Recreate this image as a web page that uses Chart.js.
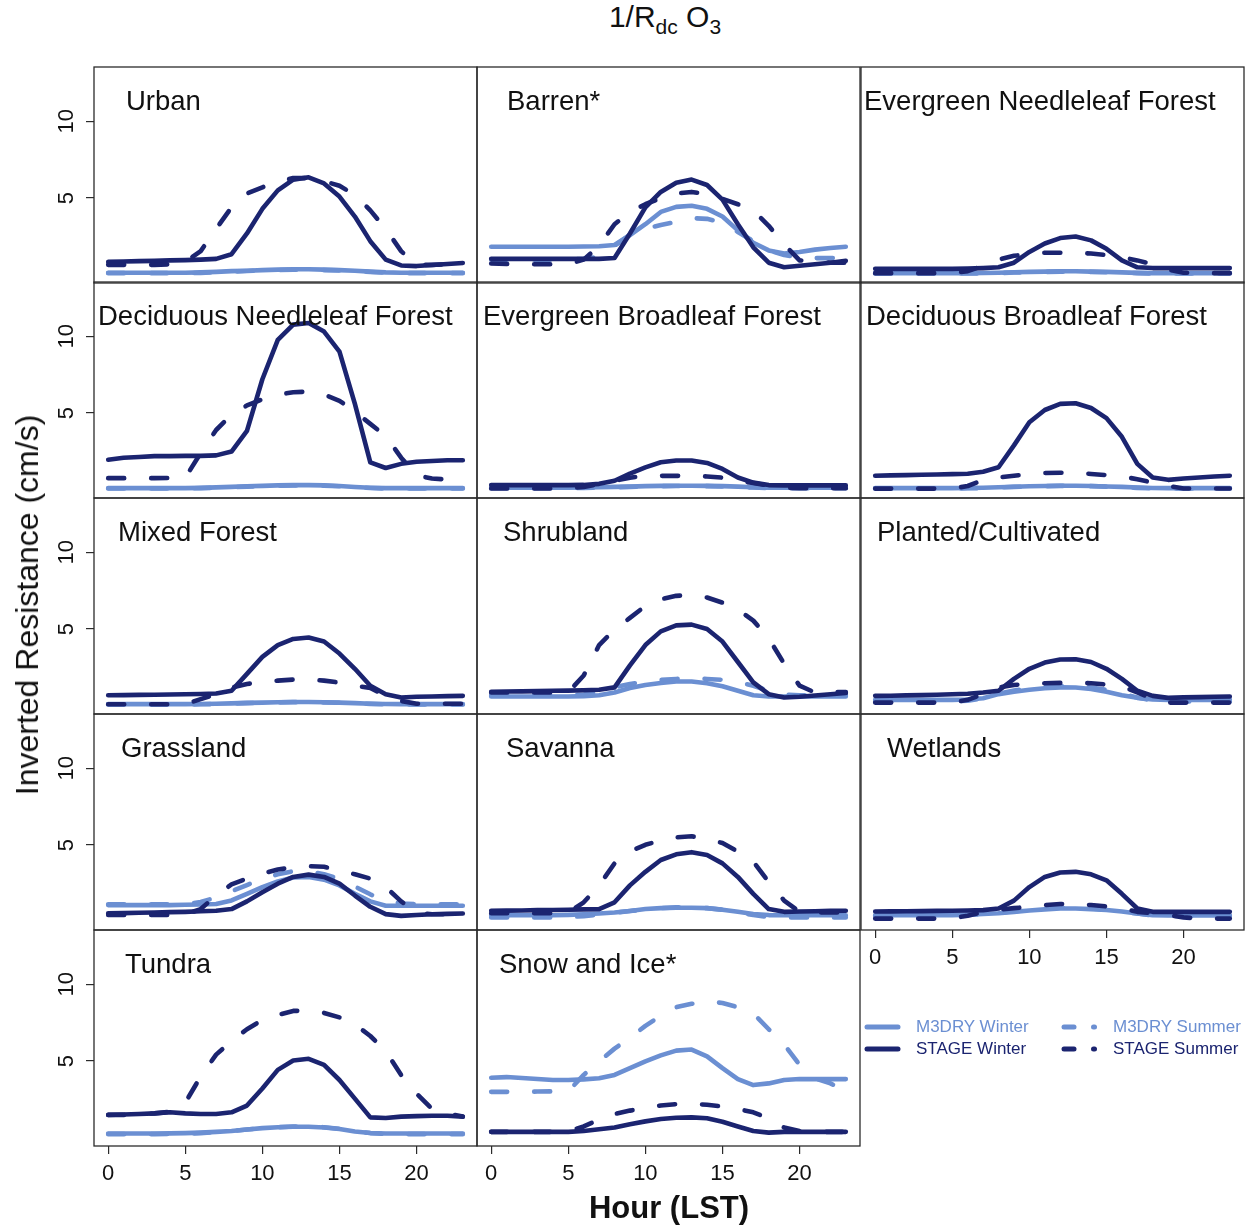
<!DOCTYPE html>
<html><head><meta charset="utf-8">
<script src="https://cdn.jsdelivr.net/npm/chart.js@4.4.1/dist/chart.umd.min.js"></script>
<style>
html,body{margin:0;padding:0;background:#fff;}
body{width:1253px;height:1228px;position:relative;overflow:hidden;font-family:"Liberation Sans",Arial,sans-serif;}
canvas{position:absolute;}
.t{position:absolute;white-space:nowrap;color:#111;line-height:32px;}
</style></head><body>
<script>
// ---------- DATA ----------
const hours = [0,1,2,3,4,5,6,7,8,9,10,11,12,13,14,15,16,17,18,19,20,21,22,23];
const categories = ["Urban","Barren*","Evergreen Needleleaf Forest","Deciduous Needleleaf Forest","Evergreen Broadleaf Forest","Deciduous Broadleaf Forest","Mixed Forest","Shrubland","Planted/Cultivated","Grassland","Savanna","Wetlands","Tundra","Snow and Ice*"];
const seriesNames = ["M3DRY Winter","M3DRY Summer","STAGE Winter","STAGE Summer"];
const xTickValues = [0,5,10,15,20];
const yTickValues = [5,10];

const m3dryWinter = [
 [0.15,0.15,0.15,0.15,0.15,0.15,0.17,0.2,0.25,0.28,0.32,0.35,0.37,0.37,0.35,0.32,0.28,0.22,0.17,0.15,0.15,0.15,0.15,0.15],
 [1.84,1.84,1.84,1.84,1.84,1.84,1.85,1.87,1.95,2.6,3.3,4.1,4.43,4.5,4.3,3.8,2.9,2.1,1.6,1.4,1.5,1.65,1.75,1.84],
 [0.12,0.12,0.12,0.12,0.12,0.12,0.12,0.13,0.15,0.18,0.2,0.22,0.24,0.24,0.22,0.2,0.17,0.14,0.12,0.12,0.12,0.12,0.12,0.12],
 [0.12,0.12,0.12,0.12,0.12,0.12,0.14,0.17,0.2,0.24,0.27,0.3,0.32,0.32,0.3,0.26,0.2,0.15,0.12,0.12,0.12,0.12,0.12,0.12],
 [0.15,0.15,0.15,0.15,0.15,0.15,0.16,0.18,0.2,0.22,0.25,0.27,0.28,0.28,0.27,0.25,0.22,0.18,0.15,0.15,0.15,0.15,0.15,0.15],
 [0.12,0.12,0.12,0.12,0.12,0.12,0.13,0.15,0.18,0.21,0.24,0.26,0.28,0.28,0.26,0.23,0.2,0.16,0.13,0.12,0.12,0.12,0.12,0.12],
 [0.12,0.12,0.12,0.12,0.12,0.12,0.13,0.15,0.17,0.2,0.22,0.24,0.26,0.26,0.24,0.22,0.19,0.15,0.13,0.12,0.12,0.12,0.12,0.12],
 [0.62,0.62,0.62,0.62,0.62,0.62,0.64,0.7,0.88,1.17,1.37,1.5,1.59,1.59,1.48,1.28,0.99,0.7,0.62,0.62,0.62,0.62,0.62,0.62],
 [0.4,0.4,0.4,0.4,0.4,0.4,0.42,0.5,0.77,0.93,1.06,1.15,1.21,1.2,1.1,0.93,0.7,0.53,0.42,0.4,0.4,0.4,0.4,0.4],
 [1.1,1.1,1.1,1.1,1.1,1.12,1.14,1.17,1.4,1.83,2.27,2.64,2.89,2.93,2.75,2.38,1.83,1.34,1.06,1.06,1.06,1.06,1.06,1.06],
 [0.44,0.44,0.44,0.44,0.44,0.46,0.5,0.55,0.62,0.72,0.84,0.9,0.93,0.93,0.9,0.8,0.66,0.52,0.45,0.44,0.44,0.44,0.44,0.44],
 [0.44,0.44,0.44,0.44,0.44,0.45,0.48,0.52,0.57,0.66,0.75,0.82,0.88,0.88,0.84,0.78,0.68,0.55,0.44,0.42,0.42,0.42,0.42,0.42],
 [0.29,0.29,0.29,0.29,0.3,0.32,0.35,0.4,0.46,0.55,0.64,0.7,0.73,0.73,0.68,0.58,0.42,0.32,0.29,0.29,0.29,0.29,0.29,0.29],
 [3.92,3.96,3.9,3.83,3.77,3.77,3.81,3.88,4.1,4.54,4.98,5.37,5.68,5.75,5.31,4.54,3.83,3.44,3.55,3.77,3.83,3.83,3.83,3.83]
];
const m3drySummer = [
 [0.12,0.12,0.12,0.12,0.12,0.12,0.14,0.18,0.22,0.26,0.3,0.32,0.34,0.34,0.32,0.3,0.26,0.2,0.15,0.12,0.12,0.12,0.12,0.12],
 [1.0,1.0,1.0,1.0,1.0,1.0,1.05,1.2,1.9,2.6,3.0,3.25,3.45,3.7,3.65,3.4,2.8,2.2,1.6,1.3,1.15,1.1,1.1,1.1],
 [0.1,0.1,0.1,0.1,0.1,0.1,0.1,0.11,0.13,0.16,0.18,0.2,0.22,0.22,0.2,0.18,0.15,0.12,0.1,0.1,0.1,0.1,0.1,0.1],
 [0.1,0.1,0.1,0.1,0.1,0.1,0.12,0.15,0.18,0.22,0.25,0.28,0.3,0.3,0.28,0.24,0.18,0.13,0.1,0.1,0.1,0.1,0.1,0.1],
 [0.12,0.12,0.12,0.12,0.12,0.12,0.13,0.15,0.18,0.2,0.23,0.25,0.26,0.26,0.25,0.23,0.2,0.16,0.13,0.12,0.12,0.12,0.12,0.12],
 [0.1,0.1,0.1,0.1,0.1,0.1,0.11,0.13,0.16,0.2,0.23,0.25,0.27,0.27,0.25,0.22,0.18,0.14,0.11,0.1,0.1,0.1,0.1,0.1],
 [0.1,0.1,0.1,0.1,0.1,0.1,0.11,0.13,0.16,0.19,0.21,0.23,0.25,0.25,0.23,0.21,0.18,0.14,0.11,0.1,0.1,0.1,0.1,0.1],
 [0.7,0.7,0.7,0.7,0.7,0.7,0.75,0.9,1.21,1.43,1.59,1.7,1.76,1.81,1.76,1.7,1.54,1.32,0.99,0.75,0.7,0.7,0.7,0.7],
 [0.3,0.3,0.3,0.3,0.3,0.3,0.35,0.5,0.8,1.0,1.15,1.25,1.3,1.3,1.2,1.05,0.8,0.55,0.35,0.3,0.3,0.3,0.3,0.3],
 [1.15,1.15,1.15,1.15,1.15,1.15,1.3,1.6,2.0,2.4,2.8,3.1,3.3,3.3,3.1,2.8,2.3,1.8,1.4,1.2,1.15,1.15,1.15,1.15],
 [0.3,0.3,0.3,0.3,0.3,0.32,0.38,0.48,0.6,0.72,0.82,0.9,0.95,0.95,0.9,0.8,0.62,0.45,0.33,0.3,0.3,0.3,0.3,0.3],
 [0.4,0.4,0.4,0.4,0.4,0.42,0.46,0.52,0.6,0.7,0.8,0.88,0.93,0.93,0.88,0.8,0.68,0.55,0.42,0.4,0.4,0.4,0.4,0.4],
 [0.25,0.25,0.25,0.25,0.26,0.28,0.32,0.38,0.45,0.55,0.63,0.7,0.75,0.75,0.7,0.6,0.45,0.32,0.26,0.25,0.25,0.25,0.25,0.25],
 [3.0,3.0,3.0,3.02,3.03,3.04,4.1,4.98,5.81,6.52,7.29,7.95,8.5,8.72,8.9,8.77,8.5,8.1,7.07,6.08,4.76,3.88,3.55,3.04]
];
const stageWinter = [
 [0.85,0.88,0.9,0.92,0.95,0.97,1.0,1.05,1.35,2.7,4.3,5.5,6.2,6.35,5.95,5.1,3.8,2.2,1.0,0.62,0.58,0.65,0.72,0.78],
 [1.05,1.05,1.05,1.05,1.05,1.05,1.05,1.05,1.1,2.7,4.4,5.4,6.0,6.2,5.85,4.9,3.3,1.8,0.8,0.5,0.6,0.7,0.8,0.92],
 [0.4,0.4,0.4,0.4,0.4,0.4,0.42,0.45,0.5,0.8,1.5,2.05,2.4,2.5,2.25,1.7,0.95,0.5,0.45,0.45,0.45,0.45,0.45,0.45],
 [1.97,2.1,2.15,2.2,2.2,2.22,2.22,2.25,2.5,3.84,7.2,9.76,10.75,10.85,10.3,9.0,5.6,1.8,1.43,1.7,1.84,1.89,1.93,1.93],
 [0.32,0.32,0.32,0.32,0.32,0.32,0.33,0.4,0.6,1.07,1.47,1.8,1.92,1.92,1.76,1.37,0.81,0.48,0.32,0.3,0.3,0.3,0.3,0.3],
 [0.93,0.95,0.97,0.99,1.01,1.03,1.06,1.19,1.48,2.9,4.4,5.2,5.6,5.64,5.33,4.67,3.46,1.7,0.81,0.66,0.75,0.81,0.88,0.93],
 [0.7,0.71,0.72,0.73,0.75,0.76,0.78,0.81,0.99,2.09,3.19,3.96,4.36,4.45,4.19,3.41,2.42,1.32,0.77,0.55,0.6,0.62,0.64,0.66],
 [0.93,0.94,0.95,0.97,0.99,1.0,1.02,1.06,1.21,2.64,3.96,4.85,5.24,5.29,5.0,4.19,2.86,1.54,0.77,0.55,0.6,0.68,0.76,0.84],
 [0.66,0.67,0.69,0.71,0.73,0.76,0.8,0.88,0.99,1.76,2.42,2.82,3.02,3.04,2.86,2.42,1.76,0.99,0.66,0.53,0.56,0.58,0.6,0.62],
 [0.57,0.58,0.6,0.62,0.64,0.66,0.7,0.73,0.84,1.34,1.94,2.49,2.93,3.08,2.93,2.49,1.72,0.99,0.51,0.4,0.46,0.5,0.53,0.55],
 [0.73,0.74,0.75,0.77,0.78,0.8,0.82,0.84,1.28,2.38,3.26,4.03,4.4,4.54,4.36,3.81,2.93,1.83,0.84,0.66,0.68,0.7,0.72,0.73],
 [0.68,0.69,0.7,0.71,0.72,0.73,0.75,0.77,0.88,1.39,2.27,2.93,3.22,3.26,3.1,2.71,1.83,0.88,0.66,0.66,0.66,0.66,0.66,0.66],
 [1.5,1.53,1.56,1.6,1.67,1.6,1.56,1.56,1.67,2.11,3.22,4.43,5.04,5.15,4.76,3.77,2.56,1.34,1.3,1.39,1.42,1.45,1.45,1.39],
 [0.4,0.4,0.4,0.4,0.4,0.4,0.46,0.57,0.68,0.9,1.08,1.23,1.32,1.34,1.28,1.06,0.75,0.46,0.35,0.4,0.4,0.4,0.4,0.4]
];
const stageSummer = [
 [0.66,0.66,0.66,0.66,0.7,0.85,1.55,3.0,4.4,5.3,5.7,6.05,6.3,6.3,6.1,5.8,5.2,4.2,3.0,1.55,0.66,0.66,0.7,0.72],
 [0.75,0.72,0.7,0.7,0.7,0.72,1.0,1.9,3.3,4.1,4.6,5.0,5.3,5.4,5.25,4.95,4.6,4.2,3.2,2.0,0.95,0.85,0.8,0.8],
 [0.12,0.12,0.12,0.12,0.12,0.12,0.25,0.6,1.0,1.25,1.35,1.45,1.45,1.43,1.4,1.3,1.15,0.95,0.7,0.35,0.15,0.12,0.12,0.12],
 [0.77,0.77,0.77,0.77,0.78,0.8,2.4,3.9,4.9,5.5,5.9,6.2,6.35,6.4,6.2,5.8,5.1,4.3,3.5,2.1,0.95,0.75,0.68,0.66],
 [0.1,0.1,0.1,0.1,0.1,0.12,0.2,0.37,0.6,0.8,0.92,0.92,0.92,0.92,0.88,0.8,0.62,0.45,0.28,0.15,0.12,0.12,0.12,0.12],
 [0.09,0.09,0.09,0.09,0.09,0.09,0.26,0.64,0.81,0.93,1.04,1.1,1.12,1.12,1.04,0.97,0.88,0.7,0.48,0.26,0.1,0.1,0.1,0.1],
 [0.11,0.11,0.11,0.11,0.11,0.11,0.45,0.77,1.2,1.43,1.56,1.65,1.72,1.72,1.65,1.52,1.32,1.17,0.66,0.33,0.15,0.15,0.15,0.15],
 [0.88,0.88,0.88,0.88,0.88,0.9,1.98,3.96,4.96,5.73,6.5,6.94,7.16,7.22,7.05,6.72,6.28,5.55,4.4,2.75,1.32,0.88,0.92,0.9],
 [0.22,0.22,0.22,0.22,0.22,0.22,0.4,0.77,1.2,1.37,1.44,1.48,1.5,1.5,1.48,1.39,1.28,0.88,0.48,0.22,0.22,0.22,0.22,0.22],
 [0.46,0.46,0.46,0.46,0.46,0.5,0.84,1.72,2.44,2.82,3.15,3.41,3.55,3.63,3.59,3.37,3.1,2.82,2.27,1.34,0.62,0.5,0.5,0.5],
 [0.57,0.57,0.57,0.57,0.57,0.6,1.28,2.38,3.81,4.58,5.02,5.29,5.5,5.57,5.42,5.13,4.58,3.92,2.6,1.39,0.66,0.62,0.62,0.62],
 [0.22,0.22,0.22,0.22,0.22,0.25,0.4,0.66,0.8,0.9,0.99,1.1,1.17,1.17,1.1,1.01,0.88,0.66,0.57,0.44,0.3,0.22,0.22,0.22],
 [1.5,1.5,1.55,1.6,1.7,2.3,4.0,5.42,6.3,7.07,7.67,8.0,8.26,8.28,8.13,7.84,7.4,6.63,5.64,4.1,2.89,1.89,1.6,1.39],
 [0.4,0.4,0.4,0.4,0.4,0.42,0.75,1.19,1.56,1.78,1.96,2.11,2.2,2.22,2.16,2.05,1.89,1.67,1.28,0.68,0.46,0.4,0.4,0.4]
];

// ---------- LAYOUT / STYLE ----------
const FONT = '"Liberation Sans", Arial, sans-serif';
const LIGHT = '#6b8fd2';
const DARK = '#1b2470';
const colLeft = [94, 477, 861];
const rowTop = [67, 282, 498, 714, 930];
const PW = 383, PH = 216;
const PADL = 70, PADB = 50, PADT = 5, PADR = 5;
const titleOffset = [32,30,3,4,6,5,24,26,16,27,29,26,31,22];

const boxPlugin = {
  id: 'panelBox',
  afterDraw(chart) {
    const a = chart.chartArea, ctx = chart.ctx;
    ctx.save();
    ctx.strokeStyle = '#2b2b2b';
    ctx.lineWidth = 1.3;
    ctx.strokeRect(a.left, a.top, a.right - a.left, a.bottom - a.top);
    ctx.restore();
  }
};

function toPoints(arr) { return hours.map((h, i) => ({ x: h, y: arr[i] })); }

function makeDataset(label, arr, color, dashed, order) {
  return {
    label, data: toPoints(arr), borderColor: color, backgroundColor: color,
    borderWidth: 4.6, pointRadius: 0, tension: 0, fill: false, order,
    borderCapStyle: 'round', borderJoinStyle: 'round',
    borderDash: dashed ? [16, 27] : []
  };
}

categories.forEach((name, i) => {
  const r = Math.floor(i / 3), c = i % 3;
  const showY = c === 0;
  const showX = r === 4 || (r === 3 && c === 2);
  const cv = document.createElement('canvas');
  const W = PW + PADL + PADR, H = PH + PADB + PADT;
  cv.width = W; cv.height = H;
  cv.style.width = W + 'px'; cv.style.height = H + 'px';
  cv.style.left = (colLeft[c] - PADL) + 'px';
  cv.style.top = (rowTop[r] - PADT) + 'px';
  document.body.appendChild(cv);

  new Chart(cv, {
    type: 'line',
    data: {
      datasets: [
        makeDataset(seriesNames[0], m3dryWinter[i], LIGHT, false, 4),
        makeDataset(seriesNames[1], m3drySummer[i], LIGHT, true, 3),
        makeDataset(seriesNames[2], stageWinter[i], DARK, false, 2),
        makeDataset(seriesNames[3], stageSummer[i], DARK, true, 1)
      ]
    },
    options: {
      responsive: false, animation: false, devicePixelRatio: 1,
      layout: { padding: { top: PADT, right: PADR, left: 0, bottom: 0 } },
      plugins: { legend: { display: false }, tooltip: { enabled: false }, title: { display: false } },
      events: [],
      scales: {
        x: {
          type: 'linear', position: 'bottom', min: -0.92, max: 23.92, offset: false,
          afterBuildTicks: s => { s.ticks = xTickValues.map(v => ({ value: v })); },
          afterFit: s => { s.height = PADB; s.paddingLeft = 0; s.paddingRight = 0; s.paddingTop = 0; s.paddingBottom = 0; },
          border: { display: false },
          grid: { display: showX, drawOnChartArea: false, drawTicks: true, tickLength: 8, color: '#2b2b2b', lineWidth: 1.2 },
          ticks: { display: showX, autoSkip: false, maxRotation: 0, minRotation: 0, padding: 7, color: '#111', font: { family: FONT, size: 22 } }
        },
        y: {
          type: 'linear', position: 'left', min: -0.52, max: 13.52,
          afterBuildTicks: s => { s.ticks = yTickValues.map(v => ({ value: v })); },
          afterFit: s => { s.width = PADL; s.paddingTop = 0; s.paddingBottom = 0; s.paddingLeft = 0; s.paddingRight = 0; },
          border: { display: false },
          grid: { display: showY, drawOnChartArea: false, drawTicks: true, tickLength: 8, color: '#2b2b2b', lineWidth: 1.2 },
          ticks: { display: showY, autoSkip: false, minRotation: 90, maxRotation: 90, crossAlign: 'center', padding: 7, color: '#111', font: { family: FONT, size: 22 } }
        }
      }
    },
    plugins: [boxPlugin]
  });

  const t = document.createElement('div');
  t.className = 't';
  t.textContent = name;
  t.style.fontSize = '27.5px';
  t.style.left = (colLeft[c] + titleOffset[i]) + 'px';
  t.style.top = (rowTop[r] + 18) + 'px';
  document.body.appendChild(t);
});

// ---------- TEXT & LEGEND ----------
function addText(html, css) {
  const d = document.createElement('div');
  d.className = 't';
  d.innerHTML = html;
  Object.assign(d.style, css);
  document.body.appendChild(d);
  return d;
}
addText('1/R<sub style="font-size:21px;vertical-align:-7px">dc</sub> O<sub style="font-size:21px;vertical-align:-7px">3</sub>',
  { left: '665px', top: '22px', fontSize: '30px', transform: 'translate(-50%,-50%)' });
addText('Inverted Resistance (cm/s)', { left: '27px', top: '605px', fontSize: '32px', transform: 'translate(-50%,-50%) rotate(-90deg)' });
addText('Hour (LST)', { left: '669px', top: '1208px', fontSize: '31px', fontWeight: 'bold', transform: 'translate(-50%,-50%)' });

const legendItems = [
  { name: seriesNames[0], color: LIGHT, dashed: false, x: 865, y: 1027 },
  { name: seriesNames[2], color: DARK, dashed: false, x: 865, y: 1049 },
  { name: seriesNames[1], color: LIGHT, dashed: true, x: 1062, y: 1027 },
  { name: seriesNames[3], color: DARK, dashed: true, x: 1062, y: 1049 }
];
legendItems.forEach(it => {
  const svgNS = 'http://www.w3.org/2000/svg';
  const svg = document.createElementNS(svgNS, 'svg');
  svg.setAttribute('width', '44'); svg.setAttribute('height', '12');
  svg.style.position = 'absolute';
  svg.style.left = (it.x - 4) + 'px'; svg.style.top = (it.y - 6) + 'px';
  const mk = (x1, x2) => {
    const l = document.createElementNS(svgNS, 'line');
    l.setAttribute('x1', x1); l.setAttribute('x2', x2); l.setAttribute('y1', 6); l.setAttribute('y2', 6);
    l.setAttribute('stroke', it.color); l.setAttribute('stroke-width', '5'); l.setAttribute('stroke-linecap', 'round');
    svg.appendChild(l);
  };
  if (it.dashed) { mk(6, 16); mk(35.5, 36.5); } else { mk(6, 37); }
  document.body.appendChild(svg);
  addText(it.name, { left: (it.x + 51) + 'px', top: (it.y - 16) + 'px', fontSize: '17px', color: it.color });
});
</script>
</body></html>
